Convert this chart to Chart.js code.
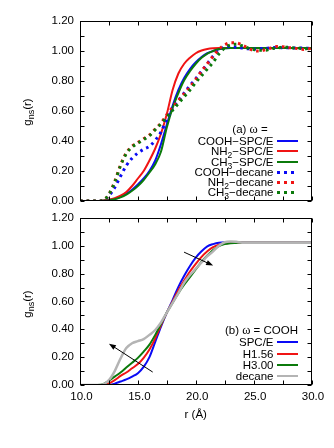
<!DOCTYPE html>
<html><head><meta charset="utf-8">
<script src="https://cdn.jsdelivr.net/npm/chart.js@4.4.1/dist/chart.umd.min.js"></script>
<style>
html,body{margin:0;padding:0;background:#fff;}
body{width:334px;height:448px;position:relative;overflow:hidden;font-family:"Liberation Sans",Arial,sans-serif;font-size:11.5px;color:#000;}
.cv{position:absolute;left:0;width:334px;}
.t{position:absolute;white-space:nowrap;line-height:12px;}
.t sub{font-size:8.5px;vertical-align:-3px;line-height:0;}
.yt sub{font-size:9px;}
.w{font-family:"Liberation Serif",serif;font-size:12.5px;}
.sm{position:absolute;height:3px;}
</style></head><body>
<div class="cv" style="top:0;height:215px"><canvas id="c1"></canvas></div>
<div class="cv" style="top:205px;height:243px"><canvas id="c2"></canvas></div>
<div id="overlay"></div>
<script>
// ---------- data ----------
const r = [10,11,11.5,12,12.5,13,13.5,14,14.5,15,15.5,16,16.5,17,17.5,18,18.5,19,19.5,20,20.5,21,21.5,22,22.5,23,23.5,24,24.5,25,25.5,26,26.5,27,27.5,28,28.5,29,29.5,30];

// panel (a)
const coohSPCE = [0,0,0,0.002,0.006,0.014,0.028,0.048,0.075,0.11,0.15,0.2,0.27,0.38,0.51,0.635,0.74,0.82,0.88,0.925,0.96,0.985,1.0,1.012,1.018,1.02,1.02,1.02,1.02,1.02,1.02,1.02,1.02,1.02,1.02,1.02,1.02,1.02,1.02,1.02];
const nh2SPCE  = [0,0,0,0.003,0.008,0.018,0.035,0.06,0.1,0.15,0.2,0.27,0.35,0.45,0.58,0.74,0.85,0.915,0.955,0.985,1.003,1.013,1.018,1.02,1.02,1.02,1.02,1.02,1.02,1.02,1.02,1.02,1.02,1.02,1.02,1.02,1.02,1.02,1.02,1.02];
const ch3SPCE  = [0,0,0,0.002,0.005,0.012,0.024,0.042,0.068,0.1,0.14,0.19,0.245,0.33,0.49,0.62,0.72,0.805,0.865,0.915,0.955,0.983,1.0,1.013,1.019,1.02,1.02,1.02,1.02,1.02,1.02,1.02,1.02,1.02,1.02,1.02,1.02,1.02,1.02,1.02];
const coohDec  = [0,0,0,0.003,0.035,0.09,0.165,0.235,0.285,0.32,0.345,0.365,0.405,0.46,0.545,0.62,0.67,0.72,0.77,0.815,0.865,0.915,0.965,1.005,1.025,1.03,1.025,1.02,1.015,1.012,1.015,1.018,1.02,1.025,1.022,1.022,1.02,1.02,1.018,1.018];
const nh2Dec   = [0,0,0,0.004,0.045,0.13,0.24,0.32,0.365,0.39,0.415,0.44,0.48,0.52,0.575,0.625,0.67,0.715,0.76,0.81,0.865,0.915,0.965,1.01,1.04,1.055,1.055,1.04,1.02,1.003,1.0,1.008,1.02,1.03,1.028,1.022,1.02,1.012,1.01,1.02];
const ch3Dec   = [0,0,0,0.004,0.045,0.125,0.235,0.315,0.36,0.385,0.41,0.435,0.475,0.515,0.56,0.605,0.65,0.695,0.74,0.79,0.835,0.88,0.925,0.98,1.02,1.04,1.045,1.035,1.02,1.01,1.005,1.005,1.015,1.02,1.025,1.025,1.02,1.018,1.015,1.02];

// panel (b)
const spceB   = [0,0,0,0,0.002,0.01,0.025,0.04,0.06,0.085,0.13,0.2,0.31,0.42,0.52,0.61,0.705,0.785,0.855,0.915,0.96,0.995,1.012,1.022,1.025,1.024,1.022,1.022,1.022,1.022,1.022,1.022,1.022,1.022,1.022,1.022,1.022,1.022,1.022,1.022];
const h156B   = [0,0,0,0,0.012,0.035,0.065,0.09,0.12,0.15,0.195,0.255,0.335,0.43,0.52,0.6,0.68,0.75,0.815,0.87,0.92,0.96,0.99,1.008,1.017,1.02,1.022,1.022,1.022,1.022,1.022,1.022,1.022,1.022,1.022,1.022,1.022,1.022,1.022,1.022];
const h300B   = [0,0,0,0.005,0.03,0.06,0.09,0.125,0.16,0.195,0.24,0.29,0.36,0.44,0.52,0.59,0.66,0.72,0.775,0.83,0.885,0.93,0.97,0.998,1.012,1.018,1.02,1.022,1.022,1.022,1.022,1.022,1.022,1.022,1.022,1.022,1.022,1.022,1.022,1.022];
const decaneB = [0,0,0,0.005,0.035,0.1,0.19,0.265,0.3,0.315,0.33,0.36,0.395,0.45,0.52,0.59,0.66,0.735,0.79,0.835,0.88,0.925,0.96,1.0,1.025,1.03,1.028,1.022,1.022,1.022,1.022,1.022,1.022,1.022,1.022,1.022,1.022,1.022,1.022,1.022];

// labels
const labelsA = ['COOH\u2212SPC/E','NH<sub>2</sub>\u2212SPC/E','CH<sub>3</sub>\u2212SPC/E','COOH\u2212decane','NH<sub>2</sub>\u2212decane','CH<sub>3</sub>\u2212decane'];
const labelsB = ['SPC/E','H1.56','H3.00','decane'];
const titleA = '(a) <span class="w">\u03c9</span> =';
const titleB = '(b) <span class="w">\u03c9</span> = COOH';
const xTicks = [10,15,20,25,30];
const yTicks = [0,0.2,0.4,0.6,0.8,1.0,1.2];
// arrows in panel (b) (data units: [r, g])
const arrowLow  = [[16.28,0.093],[12.5,0.297]];
const arrowHigh = [[18.99,0.954],[21.5,0.858]];

const BLUE='#0a0af5', RED='#f01414', GREEN='#0b7a0b', GRAY='#b4b4b4';
const colorsA=[BLUE,RED,GREEN,BLUE,RED,GREEN];
const colorsB=[BLUE,RED,GREEN,GRAY];
const DOTS=[2.6,4];

Chart.defaults.font.family='"Liberation Sans", Arial, sans-serif';
Chart.defaults.font.size=11.5;
Chart.defaults.color='#000';

function pts(ys){ return r.map((x,i)=>({x:x,y:ys[i]})); }

const framePlugin = {
  id:'frame',
  afterDatasetsDraw(chart){
    const {ctx, chartArea:a, scales:{x,y}} = chart;
    const L=Math.round(a.left)+0.5, R=Math.round(a.right)-0.5, T=Math.round(a.top)+0.5, B=Math.round(a.bottom)-0.5;
    ctx.save();
    ctx.strokeStyle='#000'; ctx.lineWidth=1;
    ctx.beginPath();
    for(let v=10; v<=30.001; v+=2.5){
      const px=Math.round(x.getPixelForValue(v))+0.5;
      ctx.moveTo(px,B); ctx.lineTo(px,B-4);
      ctx.moveTo(px,T); ctx.lineTo(px,T+4);
    }
    for(let k=0; k<=12; k++){
      const py=Math.round(y.getPixelForValue(k/10))+0.5;
      ctx.moveTo(L,py); ctx.lineTo(L+4,py);
      ctx.moveTo(R,py); ctx.lineTo(R-4,py);
    }
    ctx.stroke();
    ctx.strokeRect(L,T,R-L,B-T);
    const arrows = chart.options.plugins.frame.arrows || [];
    arrows.forEach(ar=>{
      const x0=x.getPixelForValue(ar[0][0]), y0=y.getPixelForValue(ar[0][1]);
      const x1=x.getPixelForValue(ar[1][0]), y1=y.getPixelForValue(ar[1][1]);
      const ang=Math.atan2(y1-y0,x1-x0);
      ctx.beginPath(); ctx.moveTo(x0,y0); ctx.lineTo(x1-5*Math.cos(ang),y1-5*Math.sin(ang)); ctx.stroke();
      ctx.beginPath();
      ctx.moveTo(x1,y1);
      ctx.lineTo(x1-7*Math.cos(ang)+2.6*Math.sin(ang), y1-7*Math.sin(ang)-2.6*Math.cos(ang));
      ctx.lineTo(x1-7*Math.cos(ang)-2.6*Math.sin(ang), y1-7*Math.sin(ang)+2.6*Math.cos(ang));
      ctx.closePath(); ctx.fillStyle='#000'; ctx.fill();
    });
    ctx.restore();
  }
};

function yScale(){
  return {min:0,max:1.2,
    afterBuildTicks(s){ s.ticks = yTicks.map(v=>({value:v})); },
    afterFit(s){ s.width=80; },
    grid:{display:false,drawTicks:false}, border:{display:false},
    ticks:{padding:6,callback:v=>Number(v).toFixed(2)}};
}

// top chart
new Chart(document.getElementById('c1'),{
  type:'line',
  data:{datasets:[
    {data:pts(coohSPCE),borderColor:BLUE,borderWidth:2,order:6},
    {data:pts(nh2SPCE),borderColor:RED,borderWidth:2,order:5},
    {data:pts(ch3SPCE),borderColor:GREEN,borderWidth:2,order:4},
    {data:pts(coohDec),borderColor:BLUE,borderWidth:3,borderDash:DOTS,order:3},
    {data:pts(nh2Dec),borderColor:RED,borderWidth:3,borderDash:DOTS,order:2},
    {data:pts(ch3Dec),borderColor:GREEN,borderWidth:3,borderDash:DOTS,order:1}
  ]},
  options:{
    responsive:true,maintainAspectRatio:false,animation:false,
    layout:{padding:{left:0,right:22.5,top:21,bottom:14}},
    elements:{point:{radius:0},line:{cubicInterpolationMode:'monotone',borderCapStyle:'butt',fill:false}},
    plugins:{legend:{display:false},tooltip:{enabled:false},frame:{arrows:[]}},
    scales:{
      x:{type:'linear',min:10,max:30,display:false},
      y:yScale()
    }
  },
  plugins:[framePlugin]
});

// bottom chart
new Chart(document.getElementById('c2'),{
  type:'line',
  data:{datasets:[
    {data:pts(spceB),borderColor:BLUE,borderWidth:2,order:4},
    {data:pts(h156B),borderColor:RED,borderWidth:2,order:3},
    {data:pts(h300B),borderColor:GREEN,borderWidth:2,order:2},
    {data:pts(decaneB),borderColor:GRAY,borderWidth:2.5,order:1}
  ]},
  options:{
    responsive:true,maintainAspectRatio:false,animation:false,
    layout:{padding:{left:0,right:22.5,top:9,bottom:18}},
    elements:{point:{radius:0},line:{cubicInterpolationMode:'monotone',borderCapStyle:'butt',fill:false}},
    plugins:{legend:{display:false},tooltip:{enabled:false},frame:{arrows:[arrowLow,arrowHigh]}},
    scales:{
      x:{type:'linear',min:10,max:30,
        afterBuildTicks(s){ s.ticks = xTicks.map(v=>({value:v})); },
        afterFit(s){ s.height=45; },
        grid:{display:false,drawTicks:false}, border:{display:false},
        ticks:{padding:5,labelOffset:1.5,maxRotation:0,autoSkip:false,callback:v=>Number(v).toFixed(1)},
        title:{display:true,text:'r (\u00c5)',padding:{top:0,bottom:8}}
      },
      y:yScale()
    }
  },
  plugins:[framePlugin]
});

// ---------- HTML overlay: axis titles and keys ----------
const ov=document.getElementById('overlay');
function addText(html,style,cls){ const d=document.createElement('div'); d.className='t'+(cls?' '+cls:''); d.innerHTML=html; d.setAttribute('style',style); ov.appendChild(d); return d; }
function addKey(labels,colors,dashed,title,titleStyle,y0,dy){
  addText(title,titleStyle);
  labels.forEach((lab,i)=>{
    const cy=y0+i*dy;
    addText(lab,'right:'+(334-273.5)+'px;top:'+(cy-6.5)+'px;text-align:right;');
    const s=document.createElement('div'); s.className='sm';
    const c=colors[i];
    s.setAttribute('style','left:277px;width:21px;top:'+(cy-1.5)+'px;'+(dashed[i]?('background:repeating-linear-gradient(to right,'+c+' 0 3px,transparent 3px 7px);height:3px;'):('background:'+c+';height:2px;')));
    ov.appendChild(s);
  });
}
addKey(labelsA,colorsA,[false,false,false,true,true,true],titleA,'left:250px;top:123px;transform:translateX(-50%);',141.7,10.2);
addKey(labelsB,colorsB,[false,false,false,false],titleB,'right:'+(334-298)+'px;top:324px;',342.7,11.3);
addText('g<sub>ns</sub>(r)','left:26.7px;top:111.5px;transform:translate(-50%,-50%) rotate(-90deg);','yt');
addText('g<sub>ns</sub>(r)','left:26.7px;top:304px;transform:translate(-50%,-50%) rotate(-90deg);','yt');
</script>
</body></html>
